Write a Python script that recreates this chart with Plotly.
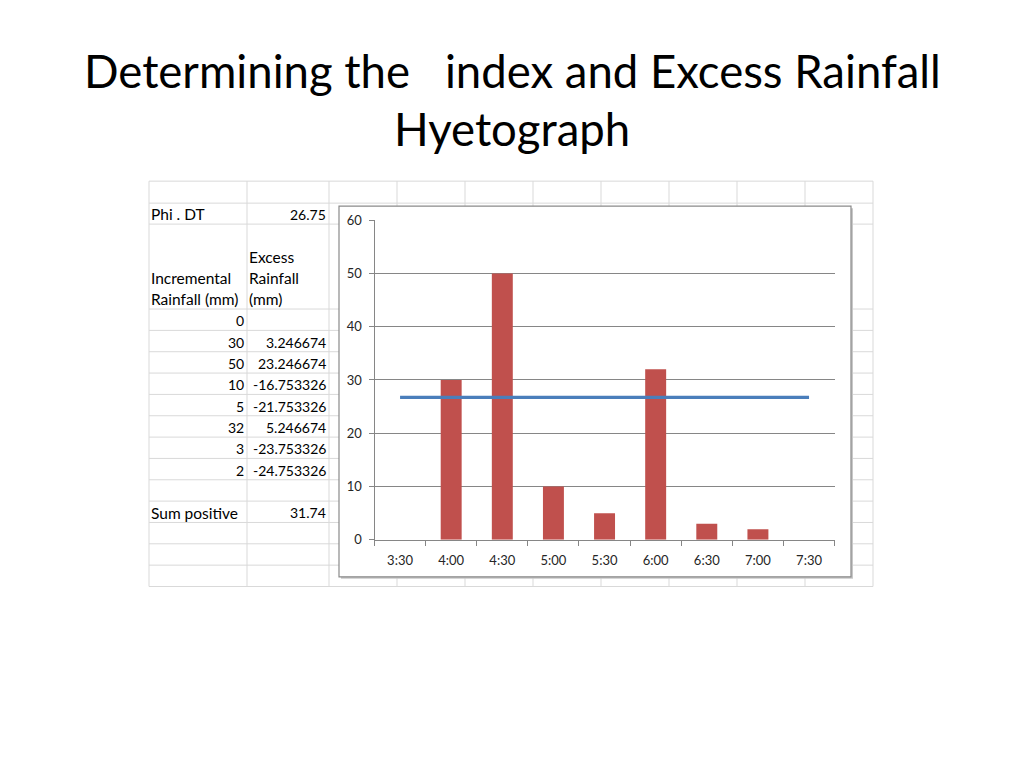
import plotly.graph_objects as go

# ---------------- data ----------------
times = ["3:30", "4:00", "4:30", "5:00", "5:30", "6:00", "6:30", "7:00", "7:30"]
incremental_rainfall = [0, 30, 50, 10, 5, 32, 3, 2, None]
phi_dt = 26.75
table_incremental = ["0", "30", "50", "10", "5", "32", "3", "2"]
table_excess = ["", "3.246674", "23.246674", "-16.753326", "-21.753326",
                "5.246674", "-23.753326", "-24.753326"]
sum_positive = "31.74"
title_line1 = "Determining the \u00a0\u00a0index and Excess Rainfall"
title_line2 = "Hyetograph"

# ---------------- layout helpers ----------------
W, H = 1024, 768
FONT = "Lato, Carlito, Calibri, sans-serif"


def px(x):
    return x / W


def py(y):
    # compensate for the page's vertical offset/scale observed in rendering
    ys = (y - 7.7) / 0.98
    return 1 - ys / H


col_x = [149, 247, 329, 397, 465, 533, 601, 669, 737, 805, 873]
row_h = 21.36
row_y = [181, 203, 224, 309] + [309 + row_h * k for k in range(1, 14)]

shapes = []
grid_col = "#D9D9D9"
for x in col_x:
    shapes.append(dict(type="line", xref="paper", yref="paper", layer="below",
                       x0=px(x), x1=px(x), y0=py(row_y[0]), y1=py(row_y[-1]),
                       line=dict(color=grid_col, width=1)))
for y in row_y:
    shapes.append(dict(type="line", xref="paper", yref="paper", layer="below",
                       x0=px(col_x[0]), x1=px(col_x[-1]), y0=py(y), y1=py(y),
                       line=dict(color=grid_col, width=1)))
# chart frame shadow + frame
shapes.append(dict(type="rect", xref="paper", yref="paper", layer="below",
                   x0=px(341), x1=px(853), y0=py(579), y1=py(208),
                   fillcolor="#C8C8C8", line=dict(width=0)))
shapes.append(dict(type="rect", xref="paper", yref="paper", layer="below",
                   x0=px(339), x1=px(851), y0=py(577), y1=py(206),
                   fillcolor="white", line=dict(color="#8A8A8A", width=1.2)))

annotations = []


def txt(text, x, y, anchor, size=15.5, color="#000000"):
    annotations.append(dict(text=text, x=px(x), y=py(y), xref="paper", yref="paper",
                            xanchor=anchor, yanchor="middle", showarrow=False,
                            font=dict(family=FONT, size=size, color=color)))


NUM = 14
# title
txt(title_line1, 512, 70, "center", size=45.5)
txt(title_line2, 512, 128, "center", size=45.5)

# table
LX_A, LX_B, RX_A, RX_B = 149, 247, 246, 328
txt("Phi . DT", LX_A, 214, "left")
txt(f"{phi_dt:.2f}", RX_B, 214, "right", size=NUM)
txt("Excess", LX_B, 257, "left")
txt("Incremental", LX_A, 278, "left")
txt("Rainfall", LX_B, 278, "left")
txt("Rainfall (mm)", LX_A, 299, "left")
txt("(mm)", LX_B, 299, "left")
for i, (a, b) in enumerate(zip(table_incremental, table_excess)):
    yc = row_y[3] + row_h * (i + 0.5) + 1
    txt(a, RX_A, yc, "right", size=NUM)
    if b:
        txt(b, RX_B, yc, "right", size=NUM)
yc = row_y[3] + row_h * 9.5 + 1
txt("Sum positive", LX_A, yc, "left")
txt(sum_positive, RX_B, yc, "right", size=NUM)

# ---------------- figure ----------------
fig = go.Figure()
fig.add_trace(go.Bar(x=times, y=incremental_rainfall, marker=dict(color="#C0504D", line=dict(width=0)),
                     name="Incremental Rainfall"))
fig.add_trace(go.Scatter(x=times, y=[phi_dt] * len(times), mode="lines",
                         line=dict(color="#4A7EBB", width=3.2), name="Phi"))

axis_col = "#868686"
fig.update_layout(
    width=W, height=H, autosize=False,
    margin=dict(l=0, r=0, t=0, b=0),
    paper_bgcolor="white", plot_bgcolor="rgba(0,0,0,0)",
    showlegend=False, bargap=0.59,
    shapes=shapes, annotations=annotations,
    font=dict(family=FONT, size=13, color="#262626"),
    xaxis=dict(domain=[px(374.5), px(834.6)], type="category",
               showgrid=False, zeroline=False, showline=True, linecolor=axis_col, linewidth=1,
               ticks="outside", tickson="boundaries", ticklen=5, tickcolor=axis_col,
               ticklabelstandoff=9,
               tickfont=dict(family=FONT, size=13, color="#262626")),
    yaxis=dict(domain=[py(540), py(220)], range=[0, 60], dtick=10,
               showgrid=True, gridcolor=axis_col, gridwidth=1, zeroline=False,
               showline=True, linecolor=axis_col, linewidth=1,
               ticks="outside", ticklen=5, tickcolor=axis_col,
               ticklabelstandoff=4,
               tickfont=dict(family=FONT, size=13, color="#262626")),
)

fig.write_html("out.html",
               config={"displayModeBar": False, "responsive": False},
               post_script="document.body.style.margin='0';")
